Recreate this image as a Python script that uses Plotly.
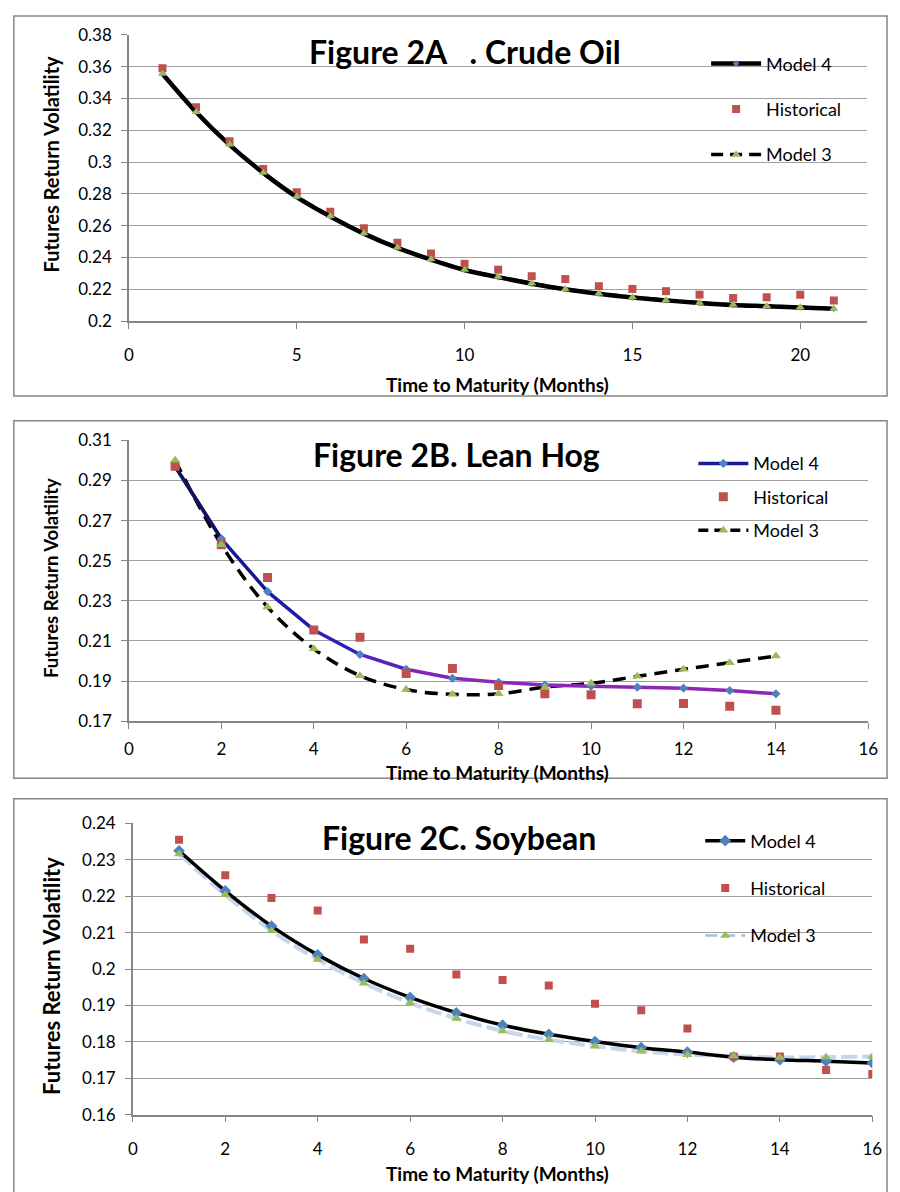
import plotly.graph_objects as go

# ---------------- data ----------------
months_a = list(range(1, 22))
model4_a = [0.3555, 0.3315, 0.3108, 0.2932, 0.2780, 0.2658, 0.2550, 0.2460, 0.2386, 0.2321,
            0.2276, 0.2235, 0.2200, 0.2172, 0.2148, 0.2130, 0.2114, 0.2101, 0.2093, 0.2085, 0.2078]
hist_a = [0.3590, 0.3345, 0.3131, 0.2957, 0.2810, 0.2687, 0.2583, 0.2493, 0.2425, 0.2360,
          0.2323, 0.2282, 0.2264, 0.2219, 0.2202, 0.2188, 0.2166, 0.2145, 0.2149, 0.2166, 0.2129]
model3_a = [0.3555, 0.3315, 0.3110, 0.2933, 0.2783, 0.2660, 0.2552, 0.2462, 0.2388, 0.2323,
            0.2278, 0.2237, 0.2200, 0.2174, 0.2150, 0.2131, 0.2115, 0.2102, 0.2094, 0.2086, 0.2078]

months_b = list(range(1, 15))
model4_b = [0.2970, 0.2609, 0.2346, 0.2155, 0.2033, 0.1959, 0.1914, 0.1894, 0.1881, 0.1875,
            0.1870, 0.1865, 0.1853, 0.1837]
hist_b = [0.2971, 0.2580, 0.2416, 0.2155, 0.2118, 0.1938, 0.1963, 0.1878, 0.1837, 0.1832,
          0.1787, 0.1788, 0.1775, 0.1755]
model3_b = [0.3000, 0.2580, 0.2269, 0.2061, 0.1927, 0.1858, 0.1834, 0.1837, 0.1870, 0.1889,
            0.1924, 0.1959, 0.1992, 0.2025]

months_c = list(range(1, 17))
model4_c = [0.2325, 0.2215, 0.2118, 0.2039, 0.1974, 0.1922, 0.1880, 0.1846, 0.1821, 0.1801,
            0.1784, 0.1772, 0.1758, 0.1751, 0.1747, 0.1742]
hist_c = [0.2355, 0.2258, 0.2195, 0.2161, 0.2081, 0.2056, 0.1985, 0.1970, 0.1955, 0.1905,
          0.1887, 0.1837, 0.1760, 0.1760, 0.1723, 0.1712]
model3_c = [0.2316, 0.2204, 0.2105, 0.2026, 0.1961, 0.1907, 0.1864, 0.1830, 0.1806, 0.1788,
            0.1774, 0.1765, 0.1761, 0.1757, 0.1758, 0.1760]

ytick_a = [0.2, 0.22, 0.24, 0.26, 0.28, 0.3, 0.32, 0.34, 0.36, 0.38]
ytext_a = ["0.2", "0.22", "0.24", "0.26", "0.28", "0.3", "0.32", "0.34", "0.36", "0.38"]
ytick_b = [0.17, 0.19, 0.21, 0.23, 0.25, 0.27, 0.29, 0.31]
ytext_b = ["0.17", "0.19", "0.21", "0.23", "0.25", "0.27", "0.29", "0.31"]
ytick_c = [0.16, 0.17, 0.18, 0.19, 0.2, 0.21, 0.22, 0.23, 0.24]
ytext_c = ["0.16", "0.17", "0.18", "0.19", "0.2", "0.21", "0.22", "0.23", "0.24"]
xtick_a = [0, 5, 10, 15, 20]
xtick_bc = [0, 2, 4, 6, 8, 10, 12, 14, 16]

titles = ["Figure 2A   . Crude Oil", "Figure 2B. Lean Hog", "Figure 2C. Soybean"]
x_title = "Time to Maturity (Months)"
y_title = "Futures Return Volatility"

# ---------------- style ----------------
W, H = 900, 1192
FONT = "Lato, 'Open Sans', sans-serif"
BLUE, RED, GREEN = "#4f81bd", "#c0504d", "#9bbb59"
AXC, GRIDC = "#868686", "#a0a0a0"


def px(x):
    return x / W


def py(y):
    return 1 - y / H


fig = go.Figure()

# ---------- Panel A ----------
fig.add_trace(go.Scatter(x=months_a, y=model4_a, name="Model 4", mode="lines+markers",
                         line=dict(color="black", width=4.5, shape="spline"),
                         marker=dict(symbol="diamond", size=5, color=BLUE),
                         xaxis="x", yaxis="y", legend="legend", legendgroup="a1"))
fig.add_trace(go.Scatter(x=months_a, y=hist_a, name="Historical", mode="markers",
                         marker=dict(symbol="square", size=8, color=RED),
                         xaxis="x", yaxis="y", legend="legend", legendgroup="a2"))
fig.add_trace(go.Scatter(x=months_a, y=model3_a, name="Model 3", mode="lines+markers",
                         line=dict(color="black", width=3.5, dash="12px,7px", shape="spline"),
                         marker=dict(symbol="triangle-up", size=8, color=GREEN),
                         xaxis="x", yaxis="y", legend="legend", legendgroup="a3"))

# ---------- Panel B ----------
stops = [(0, (16, 16, 40)), (1, (20, 20, 140)), (3, (30, 30, 180)), (4, (60, 34, 192)),
         (5, (112, 34, 192)), (6, (138, 40, 184)), (13, (140, 40, 180))]


def seg_color(i):
    for (a, ca), (b, cb) in zip(stops[:-1], stops[1:]):
        if a <= i <= b:
            t = (i - a) / (b - a) if b > a else 0
            c = [round(ca[k] + (cb[k] - ca[k]) * t) for k in range(3)]
            return "rgb(%d,%d,%d)" % tuple(c)
    return "rgb(140,40,180)"


fig.add_trace(go.Scatter(x=months_b, y=model3_b, name="Model 3", mode="lines",
                         line=dict(color="black", width=3.5, dash="13px,8px", shape="spline"),
                         xaxis="x2", yaxis="y2", showlegend=False))
for i in range(len(months_b) - 1):
    first = i == 0
    fig.add_trace(go.Scatter(x=months_b[i:i + 2], y=model4_b[i:i + 2], name="Model 4",
                             mode="lines+markers" if first else "lines",
                             line=dict(color=("#1a1aa0" if first else seg_color(i + 0.5)), width=3.5),
                             marker=dict(symbol="diamond", size=7, color=BLUE),
                             xaxis="x2", yaxis="y2", legend="legend2", legendgroup="b1",
                             showlegend=first))
fig.add_trace(go.Scatter(x=months_b[:2], y=model4_b[:2], mode="lines",
                         line=dict(color=seg_color(0.5), width=3.5),
                         xaxis="x2", yaxis="y2", showlegend=False))
fig.add_trace(go.Scatter(x=months_b, y=model4_b, mode="markers", name="Model 4",
                         marker=dict(symbol="diamond", size=7, color=BLUE),
                         xaxis="x2", yaxis="y2", showlegend=False))
fig.add_trace(go.Scatter(x=months_b, y=hist_b, name="Historical", mode="markers",
                         marker=dict(symbol="square", size=9, color=RED),
                         xaxis="x2", yaxis="y2", legend="legend2", legendgroup="b2"))
fig.add_trace(go.Scatter(x=months_b, y=model3_b, name="Model 3", mode="markers",
                         marker=dict(symbol="triangle-up", size=9, color=GREEN),
                         xaxis="x2", yaxis="y2", showlegend=False))
fig.add_trace(go.Scatter(x=[None], y=[None], name="Model 3", mode="lines+markers",
                         line=dict(color="black", width=3.5, dash="10px,6px"),
                         marker=dict(symbol="triangle-up", size=9, color=GREEN),
                         xaxis="x2", yaxis="y2", legend="legend2", legendgroup="b3"))

# ---------- Panel C ----------
fig.add_trace(go.Scatter(x=months_c, y=model3_c, mode="lines", name="Model 3",
                         line=dict(color="#c6d6ec", width=4, dash="16px,5px", shape="spline"),
                         xaxis="x3", yaxis="y3", showlegend=False))
fig.add_trace(go.Scatter(x=months_c, y=model4_c, name="Model 4", mode="lines+markers",
                         line=dict(color="black", width=3.5, shape="spline"),
                         marker=dict(symbol="diamond", size=9, color=BLUE),
                         xaxis="x3", yaxis="y3", legend="legend3", legendgroup="c1"))
fig.add_trace(go.Scatter(x=months_c, y=hist_c, name="Historical", mode="markers",
                         marker=dict(symbol="square", size=8, color=RED),
                         xaxis="x3", yaxis="y3", legend="legend3", legendgroup="c2"))
fig.add_trace(go.Scatter(x=months_c, y=model3_c, name="Model 3", mode="markers",
                         marker=dict(symbol="triangle-up", size=9, color=GREEN),
                         xaxis="x3", yaxis="y3", showlegend=False))
fig.add_trace(go.Scatter(x=[None], y=[None], name="Model 3", mode="lines+markers",
                         line=dict(color="#a9bcdc", width=2.5, dash="12px,6px"),
                         marker=dict(symbol="triangle-up", size=9, color=GREEN),
                         xaxis="x3", yaxis="y3", legend="legend3", legendgroup="c3"))

# ---------------- axes ----------------
tickfont = dict(family=FONT, size=17, color="black")


def xaxis(dom, rng, ticks, anchor, standoff):
    return dict(domain=dom, range=rng, tickvals=ticks, ticktext=[str(t) for t in ticks],
                showgrid=False, zeroline=False, showline=True, linecolor=AXC, linewidth=1.5,
                ticks="outside", ticklen=6, tickcolor=AXC, tickfont=tickfont,
                ticklabelstandoff=standoff, anchor=anchor, fixedrange=True)


def yaxis(dom, rng, tv, tt, anchor):
    return dict(domain=dom, range=rng, tickvals=tv, ticktext=tt,
                showgrid=True, gridcolor=GRIDC, gridwidth=1, zeroline=False,
                showline=True, linecolor=AXC, linewidth=1.5, ticks="outside", ticklen=6,
                tickcolor=AXC, tickfont=tickfont, ticklabelstandoff=6, anchor=anchor,
                fixedrange=True)


dom_a = (126, 877, 24.3, 315.6)
dom_b = (126, 878, 437, 723)
dom_c = (130, 882, 827, 1123.5)


def xd(d):
    return [px(d[0]), px(d[1])]


def yd(d):
    return [py(d[3]), py(d[2])]


legend_common = dict(bgcolor="rgba(0,0,0,0)", font=dict(family=FONT, size=18, color="black"),
                     xanchor="left", yanchor="top", traceorder="grouped")

fig.update_layout(
    width=W, height=H, margin=dict(l=0, r=0, t=0, b=0),
    paper_bgcolor="white", plot_bgcolor="white",
    font=dict(family=FONT, color="black"),
    xaxis=xaxis(xd(dom_a), [0, 22], xtick_a, "y", 12),
    yaxis=yaxis(yd(dom_a), [0.2, 0.38], ytick_a, ytext_a, "x"),
    xaxis2=xaxis(xd(dom_b), [0, 16], xtick_bc, "y2", 6),
    yaxis2=yaxis(yd(dom_b), [0.17, 0.31], ytick_b, ytext_b, "x2"),
    xaxis3=xaxis(xd(dom_c), [0, 16], xtick_bc, "y3", 12),
    yaxis3=yaxis(yd(dom_c), [0.16, 0.24], ytick_c, ytext_c, "x3"),
    legend=dict(x=px(713), y=py(35), tracegroupgap=19, itemwidth=50, **legend_common),
    legend2=dict(x=px(700), y=py(442), tracegroupgap=7, itemwidth=50, **legend_common),
    legend3=dict(x=px(707), y=py(826), tracegroupgap=21, itemwidth=40, **legend_common),
    showlegend=True,
)

# ---------------- frames, titles ----------------
frames = [(9, 5, 897, 392), (9, 417, 897, 781), (9, 802, 897, 1215)]
for (x0, y0, x1, y1) in frames:
    fig.add_shape(type="rect", xref="paper", yref="paper", x0=px(x0), x1=px(x1),
                  y0=py(y1), y1=py(y0), line=dict(color=AXC, width=1.5), layer="below")

title_pos = [(468, 41), (459, 451), (462, 841)]
xt_pos = [(501, 380), (501, 775), (501, 1183)]
yt_pos = [(47, 156), (47, 577), (47, 982)]
yt_size = [20, 18.5, 22]
for t, (tx, ty), (ax_, ay_), (bx, by), ys in zip(titles, title_pos, xt_pos, yt_pos, yt_size):
    fig.add_annotation(text="<b>%s</b>" % t, x=px(tx), y=py(ty), xref="paper", yref="paper",
                       xanchor="center", yanchor="middle", showarrow=False,
                       font=dict(family=FONT, size=32, color="black"))
    fig.add_annotation(text="<b>%s</b>" % x_title, x=px(ax_), y=py(ay_), xref="paper",
                       yref="paper", xanchor="center", yanchor="middle", showarrow=False,
                       font=dict(family=FONT, size=19, color="black"))
    fig.add_annotation(text="<b>%s</b>" % y_title, x=px(bx), y=py(by), xref="paper",
                       yref="paper", xanchor="center", yanchor="middle", showarrow=False,
                       textangle=-90, font=dict(family=FONT, size=ys, color="black"))

fig.write_html("out.html",
               post_script="document.body.style.margin='0';document.body.style.overflow='hidden';")
